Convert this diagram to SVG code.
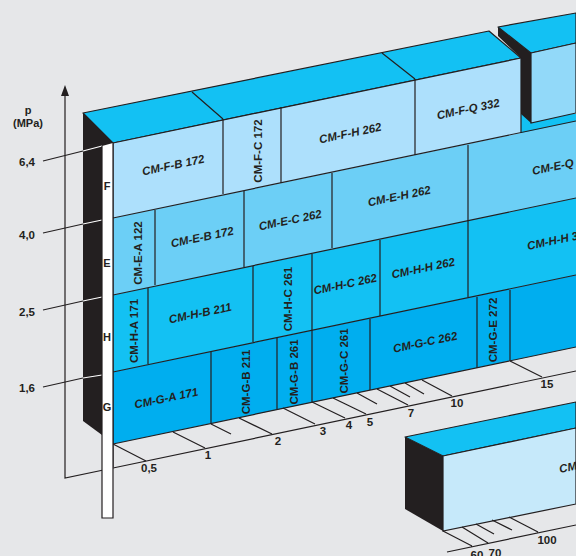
<svg xmlns="http://www.w3.org/2000/svg" width="576" height="556" viewBox="0 0 576 556">
<style>
text{font-family:"Liberation Sans",Arial,sans-serif;font-weight:700;fill:#231f20}
.c{font-size:11.5px;font-style:italic;text-anchor:middle}
.s{font-size:11.5px;font-style:italic}
.v{font-size:11.5px;text-anchor:middle}
.n{font-size:11.5px;text-anchor:middle}
.l{font-size:11px;text-anchor:middle}
.e{fill:none;stroke:#231f20;stroke-width:1.2}
.d{fill:#231f20}
.t{fill:#13c1f3;stroke:#231f20;stroke-width:1.2;stroke-linejoin:round}
.f{fill:#ade0fc}.g{fill:#6ccff6}.h{fill:#13c1f3}.i{fill:#00aeef}
</style>
<rect width="576" height="556" fill="#e6e7e9"/>
<g id="axis">
<path class="e" d="M65 94V478L113 468L576 371"/>
<path class="d" d="M65 85L69 96H61Z"/>
<text class="l" x="28" y="114">p</text><text class="l" x="28" y="127">(MPa)</text>
</g>
<g id="upper-right-box">
<path class="h" d="M521 114H576V134L521 134Z"/>
<path class="d" d="M498 27L531 53V123L521 114V58L498 36Z"/>
<path class="t" d="M498 27L531 53L576 43V13Z"/>
<path d="M531 53L576 43V113L531 123Z" fill="#92d9f9" stroke="#231f20" stroke-width="1.2"/>
</g>
<g id="main-top">
<path class="d" d="M83 113L113 143V443L102 435L83 421Z"/>
<path class="t" d="M83 113L489 31L521 58L113 143Z"/>
<path class="e" d="M192 92L223 119M382 53L415 79"/>
</g>
<g id="row-F">
<path class="f" d="M113 143L521 58V133L113 218Z"/>
<text class="c" transform="translate(174 169) rotate(-11.8)">CM-F-B 172</text>
<text class="v" transform="translate(262 151) rotate(-90)">CM-F-C 172</text>
<text class="c" transform="translate(351 137) rotate(-11.8)">CM-F-H 262</text>
<text class="c" transform="translate(469 113) rotate(-11.8)">CM-F-Q 332</text>
</g>
<g id="row-E">
<path class="g" d="M113 218L521 133L576 121V198L113 295Z"/>
<text class="v" transform="translate(142 253) rotate(-90)">CM-E-A 122</text>
<text class="c" transform="translate(203 241) rotate(-11.8)">CM-E-B 172</text>
<text class="c" transform="translate(291 224) rotate(-11.8)">CM-E-C 262</text>
<text class="c" transform="translate(400 200) rotate(-11.8)">CM-E-H 262</text>
<text class="s" transform="translate(533 175) rotate(-11.8)">CM-E-Q</text>
</g>
<g id="row-H">
<path class="h" d="M113 295L576 198V275L113 372Z"/>
<text class="v" transform="translate(138 331) rotate(-90)">CM-H-A 171</text>
<text class="c" transform="translate(201 317) rotate(-11.8)">CM-H-B 211</text>
<text class="v" transform="translate(292 299) rotate(-90)">CM-H-C 261</text>
<text class="c" transform="translate(346 288) rotate(-11.8)">CM-H-C 262</text>
<text class="c" transform="translate(424 272) rotate(-11.8)">CM-H-H 262</text>
<text class="s" transform="translate(528 250) rotate(-11.8)">CM-H-H 3</text>
</g>
<g id="row-G">
<path class="i" d="M113 372L576 275V347L113 444Z"/>
<text class="c" transform="translate(167 402) rotate(-11.8)">CM-G-A 171</text>
<text class="v" transform="translate(250 382) rotate(-90)">CM-G-B 211</text>
<text class="v" transform="translate(298 372) rotate(-90)">CM-G-B 261</text>
<text class="v" transform="translate(348 361) rotate(-90)">CM-G-C 261</text>
<text class="c" transform="translate(426 346) rotate(-11.8)">CM-G-C 262</text>
<text class="v" transform="translate(497 330) rotate(-90)">CM-G-E 272</text>
</g>
<g id="connectors">
<path class="e" d="M113 143V467M113 143L521 58M113 218L576 121M113 295L576 198M113 372L576 275M113 444L576 347"/>
<path class="e" d="M223 119V194M281 107V183M415 79V155M521 58V133M155 210V285M244 191V267M332 173V248M468 145V221M148 288V364M253 266V342M312 254V331M380 240V316M468 221V297M211 352V424M277 338V409M312 331V402M370 319V390M477 297V368M510 290V361"/>
<path class="e" d="M113 444L146 461M173 432L205 448M211 424L231 434M239 418L272 434M283 408L315 424M312 402L345 418M333 398L366 414M357 393L377 404M377 389L408 405M390 386L410 397M405 383L424 394M422 380L452 396M510 361L542 377"/>
<path class="e" d="M43 161L83 151M43 233L83 224M43 310L83 301M43 387L83 378"/>
<path d="M83 151L102 146M83 224L102 220M83 301L102 297M83 378L102 375" fill="none" stroke="#fff" stroke-width="1.2"/>
</g>
<g id="pressure-strip">
<path d="M102 146L113 143V518H102Z" fill="#fff"/>
<path class="e" d="M102 146V518H113V143"/>
<text class="l" x="107" y="190">F</text><text class="l" x="107" y="267">E</text><text class="l" x="107" y="341">H</text><text class="l" x="107" y="411">G</text>
</g>
<g id="scale-labels">
<text class="n" x="27" y="166">6,4</text><text class="n" x="27" y="239">4,0</text><text class="n" x="27" y="316">2,5</text><text class="n" x="27" y="392">1,6</text>
<text class="n" x="149" y="472">0,5</text><text class="n" x="208" y="459">1</text><text class="n" x="278" y="445">2</text><text class="n" x="323" y="435">3</text><text class="n" x="349" y="429">4</text><text class="n" x="370" y="426">5</text><text class="n" x="411" y="417">7</text><text class="n" x="457" y="407">10</text><text class="n" x="547" y="388">15</text>
</g>
<g id="lower-box">
<path class="d" d="M405 437L443 456V531L405 509Z"/>
<path class="t" d="M405 437L576 402V428L443 456Z"/>
<path d="M443 456L576 428V504L443 531Z" fill="#c6e9fa" stroke="#231f20" stroke-width="1.2"/>
<text class="s" transform="translate(560 473) rotate(-11.8)">CM</text>
<path class="e" d="M443 531L472 546M462 527L488 543M476 524L494 534M492 520L512 530M509 517L538 532M447 552L576 525"/>
<text class="n" x="477" y="559">60</text><text class="n" x="495" y="557">70</text><text class="n" x="547" y="544">100</text>
</g>
</svg>
